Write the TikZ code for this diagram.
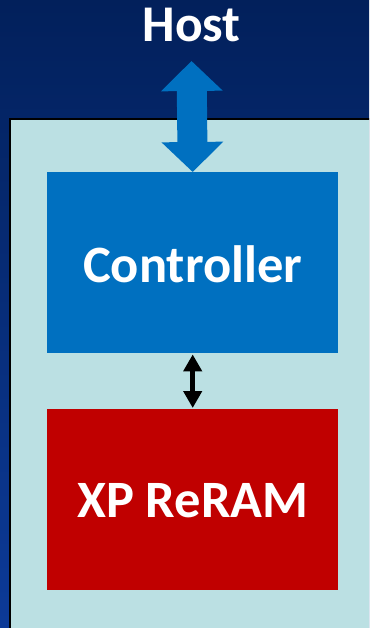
\documentclass[tikz,border=0pt]{standalone}
\usepackage{fontspec}
\setmainfont{Carlito}
\usetikzlibrary{arrows.meta}
\definecolor{navytop}{HTML}{02205B}
\definecolor{navybot}{HTML}{0C3A98}
\definecolor{panelfill}{HTML}{BBE0E3}
\definecolor{ctrlblue}{HTML}{0070C0}
\definecolor{memred}{HTML}{C00000}
\tikzset{
  label/.style={text=white, font=\bfseries\fontsize{52.5}{52.5}\selectfont, inner sep=0pt},
  blockbox/.style={minimum width=291pt, minimum height=181pt, inner sep=0pt, anchor=north west},
  hostlink/.style={draw=ctrlblue, line width=30pt,
    {Triangle[width=60pt,length=30pt]}-{Triangle[width=60pt,length=30pt]}},
  buslink/.style={draw=black, line width=4.5pt,
    {Triangle[width=18pt,length=17pt]}-{Triangle[width=18pt,length=17pt]}, shorten <=1pt, shorten >=1pt}
}
\begin{document}
\begin{tikzpicture}[x=1pt,y=-1pt]
  \useasboundingbox (0,0) rectangle (369,628);
  % backdrop
  \shade[top color=navytop, bottom color=navybot] (0,0) rectangle (369,628);
  % storage panel
  \begin{scope}
    \clip (0,0) rectangle (369,628);
    \draw[fill=panelfill, line width=2pt] (10,119) rectangle (390,650);
  \end{scope}
  % host label
  \node[label, font=\bfseries\fontsize{51.5}{51.5}\selectfont] (host) at (191.5,25) {Host};
  \coordinate (hostport) at (191.5,61);
  % blocks
  \node[blockbox, fill=ctrlblue] (ctrl) at (47,172) {};
  \node[label] at ([yshift=-2pt]ctrl.center) {Controller};
  \node[blockbox, fill=memred] (mem) at (47,409) {};
  \node[label] at ([yshift=-1pt]mem.center) {XP ReRAM};
  % links
  \draw[hostlink] (hostport) -- (ctrl.north);
  \draw[buslink] (ctrl.south) -- (mem.north);
\end{tikzpicture}
\end{document}
